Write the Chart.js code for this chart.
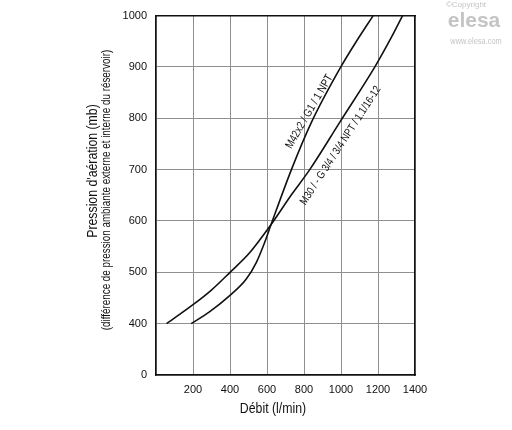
<!DOCTYPE html>
<html lang="fr">
  <head>
    <meta charset="utf-8" />
    <title>Pression d'aération</title>
    <script src="https://cdn.jsdelivr.net/npm/chart.js@4/dist/chart.umd.min.js"></script>
    <style>
      body { margin: 0; background: #fff; }
      canvas { display: block; }
    </style>
  </head>
  <body>
    <canvas id="chart" width="512" height="430"></canvas>
    <script>
      // débit (l/min) et pression (mb)
      const m42Flow = [190, 289, 400, 488, 542, 587, 622, 732, 840, 999, 1087, 1174];
      const m42Pressure = [400, 423, 455, 487, 519, 558, 593, 700, 792, 900, 952, 1000];
      const m30Flow = [57, 200, 298, 400, 506, 622, 732, 831, 993, 1183, 1264, 1333];
      const m30Pressure = [400, 437, 465, 500, 538, 593, 651, 700, 792, 900, 952, 1000];

      const m42Label = "M42x2 / G1 / 1 NPT";
      const m30Label = "M30 / - G 3/4 / 3/4 NPT / 1.1/16-12";

      const FONT = "'Liberation Sans', Arial, sans-serif";
      const NARROW = 0.82; // la police d'origine est étroite

      const toPoints = (xs, ys) => xs.map((x, i) => ({ x: x, y: ys[i] }));

      function narrowText(c, text, x, y, angle) {
        c.save();
        c.translate(x, y);
        c.rotate(angle);
        c.scale(NARROW, 1);
        c.fillText(text, 0, 0);
        c.restore();
      }

      // titres des axes, étiquettes des courbes et filigrane
      const textPlugin = {
        id: "texts",
        afterDraw(chart) {
          const c = chart.ctx;
          const xs = chart.scales.x;
          const ys = chart.scales.y;
          c.save();
          c.fillStyle = "#111";
          c.textAlign = "center";
          c.textBaseline = "middle";

          c.font = "15px " + FONT;
          narrowText(c, "Débit (l/min)", 273, 409, 0);
          narrowText(c, "Pression d'aération (mb)", 93, 171, -Math.PI / 2);

          c.font = "12px " + FONT;
          narrowText(c, "(différence de pression ambiante externe et interne du réservoir)", 107, 190, -Math.PI / 2);

          // étiquettes le long des courbes
          c.font = "11.5px " + FONT;
          narrowText(c, m42Label, xs.getPixelForValue(829), ys.getPixelForValue(813), -60 * Math.PI / 180);
          c.font = "11px " + FONT;
          narrowText(c, m30Label, xs.getPixelForValue(998), ys.getPixelForValue(747), -57 * Math.PI / 180);

          // filigrane
          c.fillStyle = "#c4c4c4";
          c.font = "8px " + FONT;
          c.fillText("©Copyright", 466, 5);
          c.font = "bold 21px " + FONT;
          c.fillText("elesa", 474, 21);
          c.font = "9px " + FONT;
          narrowText(c, "www.elesa.com", 476, 42, 0);
          c.restore();
        },
      };

      const lineStyle = {
        showLine: true,
        borderColor: "#111",
        borderWidth: 1.6,
        pointRadius: 0,
        cubicInterpolationMode: "monotone",
        fill: false,
      };

      const gridColor = "#8f8f8f";
      const tickFont = { family: FONT, size: 11 };

      new Chart(document.getElementById("chart"), {
        type: "scatter",
        data: {
          datasets: [
            Object.assign({ label: m42Label, data: toPoints(m42Flow, m42Pressure) }, lineStyle),
            Object.assign({ label: m30Label, data: toPoints(m30Flow, m30Pressure) }, lineStyle),
          ],
        },
        options: {
          responsive: false,
          animation: false,
          layout: { padding: 0 },
          plugins: { legend: { display: false }, tooltip: { enabled: false } },
          scales: {
            x: {
              type: "linear",
              min: 0,
              max: 1400,
              afterFit: (s) => { s.height = 55; },
              ticks: {
                stepSize: 200,
                padding: 8,
                color: "#111",
                font: tickFont,
                maxRotation: 0,
                callback: (v) => (v === 0 ? "" : v),
              },
              grid: { color: gridColor, lineWidth: 1, drawTicks: false },
              border: { color: "#111", width: 1.5 },
            },
            y: {
              type: "linear",
              min: 300,
              max: 1000,
              afterFit: (s) => { s.width = 156; },
              ticks: {
                stepSize: 100,
                padding: 9,
                color: "#111",
                font: tickFont,
                callback: (v) => (v === 300 ? "0" : v),
              },
              grid: { color: gridColor, lineWidth: 1, drawTicks: false },
              border: { color: "#111", width: 1.5 },
            },
            x2: {
              type: "linear",
              position: "top",
              min: 0,
              max: 1400,
              afterFit: (s) => { s.height = 12; },
              ticks: { display: false },
              grid: { display: false },
              border: { display: true, color: "#111", width: 1.5 },
            },
            y2: {
              type: "linear",
              position: "right",
              min: 300,
              max: 1000,
              afterFit: (s) => { s.width = 97; },
              ticks: { display: false },
              grid: { display: false },
              border: { display: true, color: "#111", width: 1.5 },
            },
          },
        },
        plugins: [textPlugin],
      });
    </script>
  </body>
</html>
